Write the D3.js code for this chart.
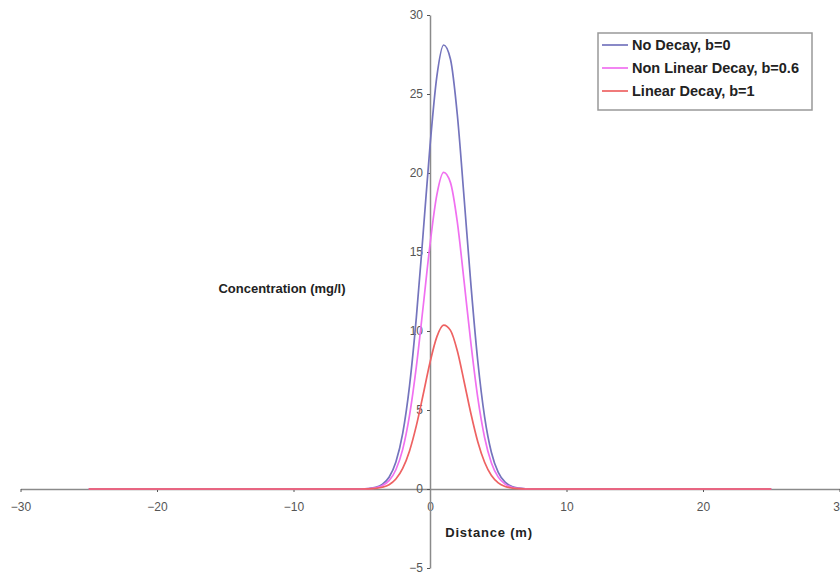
<!DOCTYPE html>
<html>
<head>
<meta charset="utf-8">
<script src="https://cdn.jsdelivr.net/npm/d3@7"></script>
<style>
  body { margin: 0; background: #fff; }
  svg text { font-family: "Liberation Sans", Arial, sans-serif; }
</style>
</head>
<body>
<svg id="chart" width="840" height="574"></svg>
<script>
// distance (m)
var distance = [-25, -5, -4.5, -4, -3.5, -3, -2.5, -2, -1.5, -1, -0.5, 0, 0.5, 1, 1.5, 2, 2.5, 3, 3.5, 4, 4.5, 5, 5.5, 6, 6.5, 7, 7.5, 25];
// concentration (mg/l)
var noDecay     = [0, 0, 0.03, 0.10, 0.29, 0.74, 1.71, 3.52, 6.53, 10.86, 16.2, 21.7, 26.1, 28.1, 27.2, 23.7, 18.4, 12.9, 8.1, 4.57, 2.31, 1.05, 0.43, 0.16, 0.05, 0.01, 0, 0];
var nonLinDecay = [0, 0, 0.02, 0.07, 0.21, 0.53, 1.22, 2.51, 4.66, 7.74, 11.55, 15.47, 18.61, 20.04, 19.39, 16.9, 13.12, 9.2, 5.78, 3.26, 1.65, 0.75, 0.31, 0.11, 0.04, 0.01, 0, 0];
var linDecay    = [0, 0, 0.01, 0.04, 0.11, 0.27, 0.63, 1.3, 2.41, 4.01, 5.98, 8.01, 9.63, 10.37, 10.04, 8.75, 6.79, 4.76, 2.99, 1.69, 0.85, 0.39, 0.16, 0.06, 0.02, 0, 0, 0];
var seriesNames = ["No Decay, b=0", "Non Linear Decay, b=0.6", "Linear Decay, b=1"];
var seriesColors = ["#7474bd", "#f070f0", "#ee6262"];
var xTicks = [-30, -20, -10, 0, 10, 20, 30];
var yTicks = [-5, 0, 5, 10, 15, 20, 25, 30];

var svg = d3.select("#chart");
var x = d3.scaleLinear().domain([-30, 30]).range([20.5, 839.5]),
    y = d3.scaleLinear().domain([-5, 30]).range([568, 15]);

var axisColor = "#8a8a8a";

// x axis through y=0
var gx = svg.append("g").attr("transform", "translate(0," + y(0) + ")")
  .call(d3.axisBottom(x).tickValues(xTicks).tickSize(3).tickSizeOuter(0));
gx.select(".domain").attr("stroke", axisColor).attr("stroke-width", 1.5);
gx.selectAll(".tick line").attr("stroke", "#555");
gx.selectAll(".tick text").attr("dy", "1.3em").attr("font-size", "12px").attr("fill", "#555");

// y axis through x=0
var gy = svg.append("g").attr("transform", "translate(" + x(0) + ",0)")
  .call(d3.axisLeft(y).tickValues(yTicks).tickSize(3).tickSizeOuter(0));
gy.select(".domain").attr("stroke", axisColor).attr("stroke-width", 1.5);
gy.selectAll(".tick line").attr("stroke", "#555");
gy.selectAll(".tick text").attr("x", -7).attr("font-size", "12px").attr("fill", "#555");

var line = d3.line().curve(d3.curveMonotoneX);
[noDecay, nonLinDecay, linDecay].forEach(function(vals, i) {
  svg.append("path")
    .attr("d", line(distance.map(function(d, j) { return [x(d), y(vals[j])]; })))
    .attr("fill", "none")
    .attr("stroke", seriesColors[i])
    .attr("stroke-width", 1.7);
});

// axis titles
svg.append("text").attr("x", 282).attr("y", 293).attr("text-anchor", "middle")
  .attr("font-size", "13px").attr("font-weight", "bold").attr("fill", "#222")
  .text("Concentration (mg/l)");
svg.append("text").attr("x", 489).attr("y", 537).attr("text-anchor", "middle")
  .attr("font-size", "13px").attr("font-weight", "bold").attr("fill", "#222")
  .attr("letter-spacing", "0.8px")
  .text("Distance (m)");

// legend
var lg = svg.append("g").attr("transform", "translate(598,33)");
lg.append("rect").attr("width", 214).attr("height", 77)
  .attr("fill", "#fff").attr("stroke", "#999").attr("stroke-width", 1.5);
seriesNames.forEach(function(n, i) {
  var ly = 12 + i * 23;
  lg.append("line").attr("x1", 4).attr("x2", 30).attr("y1", ly).attr("y2", ly)
    .attr("stroke", seriesColors[i]).attr("stroke-width", 1.7);
  lg.append("text").attr("x", 34).attr("y", ly + 5)
    .attr("font-size", "14.5px").attr("font-weight", "bold").attr("fill", "#222")
    .text(n);
});
</script>
</body>
</html>
